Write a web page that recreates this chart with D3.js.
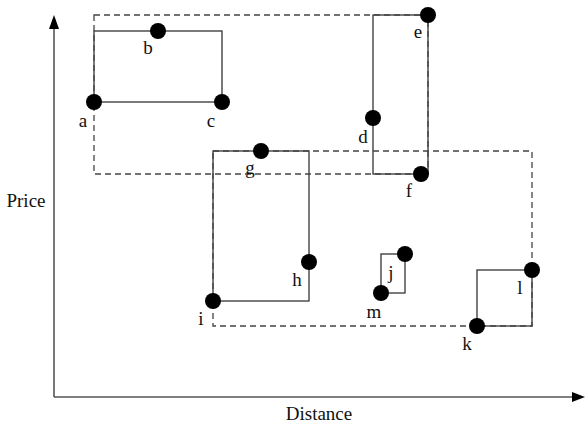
<!DOCTYPE html>
<html lang="en">
<head>
<meta charset="UTF-8">
<title>Price / Distance groups</title>
<script src="https://d3js.org/d3.v7.min.js"></script>
<style>
  body { margin: 0; background: #fff; }
  svg { display: block; }
  .axis-line { stroke: #555; stroke-width: 1.6; }
  .mbr { fill: none; stroke: #333; stroke-width: 1.3; }
  .group { fill: none; stroke: #444; stroke-width: 1.3; stroke-dasharray: 6,4; }
  .pt { fill: #000; }
</style>
</head>
<body>
<script>
// point names and coordinates (distance, price)
const names    = ["a", "b", "c", "d", "e", "f", "g", "h", "i", "j", "m", "k", "l"];
const distance = [40, 104, 168, 319, 374, 367, 207, 255, 159, 351, 327, 423, 478];
const price    = [295, 366, 295, 279, 382, 223, 246, 135, 96, 143, 104, 71, 127];

// solid boxes (leaf groups) and dashed boxes (parent groups)
const leafGroups   = [["a", "b", "c"], ["d", "e", "f"], ["g", "h", "i"], ["j", "m"], ["k", "l"]];
const parentGroups = [["a", "b", "c", "d", "e", "f"], ["g", "h", "i", "j", "m", "k", "l"]];

// label offsets in px from the dot
const labelDx = { a: -11, b: -10, c: -11, d: -10, e: -10, f: -12, g: -11, h: -12, i: -12, j: -14, m: -7, k: -10, l: -12 };
const labelDy = { a: 25, b: 23, c: 25, d: 25, e: 23, f: 23, g: 23, h: 24, i: 24, j: 25, m: 25, k: 24, l: 24 };

const W = 585, H = 424;
const FONT = '"Liberation Serif", "Times New Roman", serif';
const x = d3.scaleLinear().domain([0, 531]).range([54, 585]);
const y = d3.scaleLinear().domain([0, 383]).range([397, 14]);

const pts = names.map((n, i) => ({ name: n, d: distance[i], p: price[i] }));
const byName = Object.fromEntries(pts.map(p => [p.name, p]));

const svg = d3.select("body").append("svg")
  .attr("width", W).attr("height", H);

function box(group) {
  const ps = group.map(n => byName[n]);
  const [x0, x1] = d3.extent(ps, p => x(p.d));
  const [y0, y1] = d3.extent(ps, p => y(p.p));
  return { x: x0, y: y0, w: x1 - x0, h: y1 - y0 };
}

// axes
svg.append("line").attr("class", "axis-line")
  .attr("x1", x(0)).attr("y1", y(0)).attr("x2", x(0)).attr("y2", 28);
svg.append("line").attr("class", "axis-line")
  .attr("x1", x(0)).attr("y1", y(0)).attr("x2", 573).attr("y2", y(0));
svg.append("path").attr("fill", "#000")
  .attr("d", `M${x(0)},15 L${x(0) - 5},29 L${x(0) + 5},29 Z`);
svg.append("path").attr("fill", "#000")
  .attr("d", `M585,${y(0)} L572,${y(0) - 5} L572,${y(0) + 5} Z`);

function label(sel) {
  return sel.style("font-family", FONT).style("font-size", "19px")
    .attr("fill", "#111").attr("text-anchor", "middle");
}

svg.append("text").attr("x", 26).attr("y", 207).call(label).text("Price");
svg.append("text").attr("x", 319).attr("y", 420).call(label).text("Distance");

// solid boxes
svg.selectAll("rect.mbr").data(leafGroups.map(box)).enter().append("rect")
  .attr("class", "mbr")
  .attr("x", b => b.x).attr("y", b => b.y)
  .attr("width", b => b.w).attr("height", b => b.h);

// dashed boxes
svg.selectAll("rect.group").data(parentGroups.map(box)).enter().append("rect")
  .attr("class", "group")
  .attr("x", b => b.x).attr("y", b => b.y)
  .attr("width", b => b.w).attr("height", b => b.h);

// points
svg.selectAll("circle.pt").data(pts).enter().append("circle")
  .attr("class", "pt")
  .attr("cx", p => x(p.d)).attr("cy", p => y(p.p)).attr("r", 8);

svg.selectAll("text.lbl").data(pts).enter().append("text")
  .attr("class", "lbl")
  .call(label)
  .attr("x", p => x(p.d) + labelDx[p.name])
  .attr("y", p => y(p.p) + labelDy[p.name])
  .text(p => p.name);
</script>
</body>
</html>
